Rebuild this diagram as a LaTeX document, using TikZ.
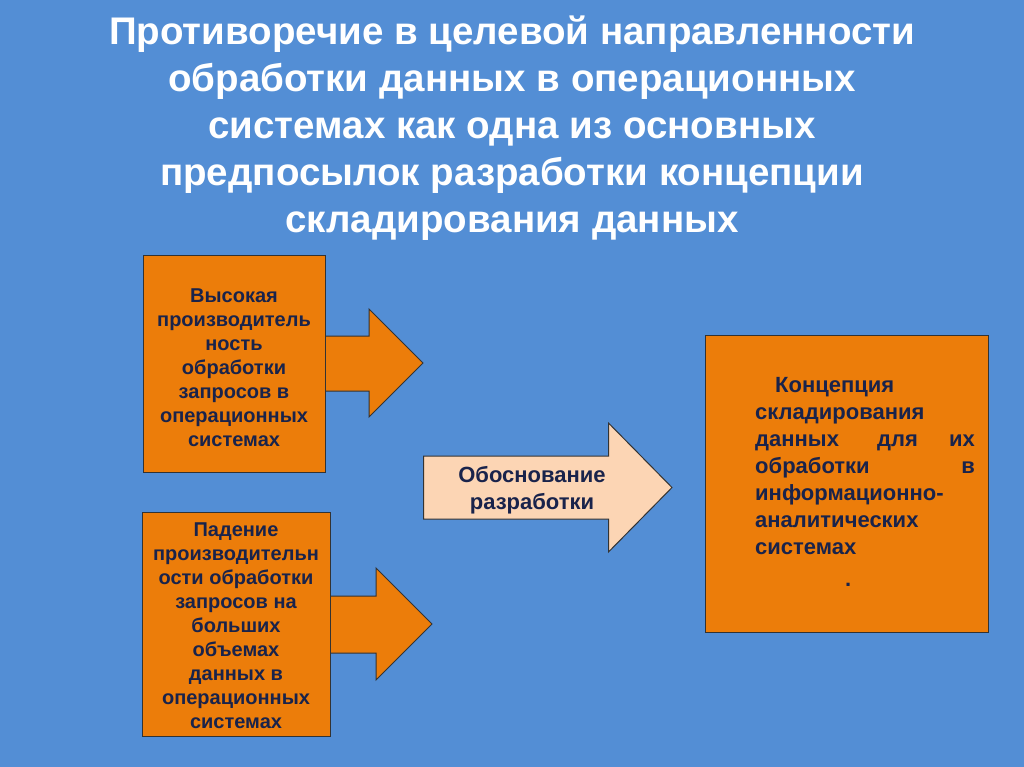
\documentclass[tikz,border=0pt]{standalone}
\usepackage{fontspec}
\setmainfont{Liberation Sans}
\begin{document}
\begin{tikzpicture}[x=1pt,y=-1pt,
  org/.style={fill=orangeA,draw=black!80,line width=1pt},
  pch/.style={fill=peach,draw=black!80,line width=1pt},
  txt/.style={text=navy,font=\bfseries\fontsize{20}{24}\selectfont,align=center,inner sep=0pt},
  big/.style={text=navy,font=\bfseries\fontsize{22}{27}\selectfont,align=center,inner sep=0pt},
  ttl/.style={text=white,font=\bfseries\fontsize{38.5}{47}\selectfont,align=center,inner sep=0pt}]
\definecolor{bg}{RGB}{83,142,213}
\definecolor{orangeA}{RGB}{236,125,10}
\definecolor{peach}{RGB}{252,213,180}
\definecolor{navy}{RGB}{25,35,75}
\fill[bg] (0,0) rectangle (1024,767);
\useasboundingbox (0,0) rectangle (1024,767);
\node[ttl] (title) at (512,128) {Противоречие в целевой направленности\\обработки данных в операционных\\системах как одна из основных\\предпосылок разработки концепции\\складирования данных};
\draw[org] (320,336) -- (369,336) -- (369,309) -- (423,363) -- (369,417) -- (369,391) -- (320,391);
\draw[org] (325,596) -- (376,596) -- (376,568) -- (432,624) -- (376,680) -- (376,653) -- (325,653);
\node[org,minimum width=182pt,minimum height=217pt,inner sep=0pt] (b1) at (234,363.5) {};
\node[txt] (t1) at (234,368) {Высокая\\производитель\\ность\\обработки\\запросов в\\операционных\\системах};
\node[org,minimum width=188pt,minimum height=224pt,inner sep=0pt] (b2) at (236,624) {};
\node[txt] (t2) at (236,626) {Падение\\производительн\\ости обработки\\запросов на\\больших\\объемах\\данных в\\операционных\\системах};
\draw[pch] (423.5,456) -- (608.5,456) -- (608.5,423) -- (672,487.5) -- (608.5,552) -- (608.5,519) -- (423.5,519) -- cycle;
\node[big] (t3) at (532,490) {Обоснование\\разработки};
\node[org,minimum width=283pt,minimum height=297pt,inner sep=0pt] (b3) at (846.5,483.5) {};
\begin{scope}[every node/.style={big,anchor=base west}]
\node (r1) at (775,392) {Концепция};
\node (r2) at (755,419) {складирования};
\node (r3) at (755,446) {данных};
\node (r3b) at (877,446) {для};
\node[anchor=base east] (r3c) at (975,446) {их};
\node (r4) at (755,473) {обработки};
\node[anchor=base east] (r4b) at (975,473) {в};
\node (r5) at (755,500) {информационно-};
\node (r6) at (755,527) {аналитических};
\node (r7) at (755,554) {системах};
\node (r8) at (845,586) {.};
\end{scope}
\end{tikzpicture}
\end{document}
